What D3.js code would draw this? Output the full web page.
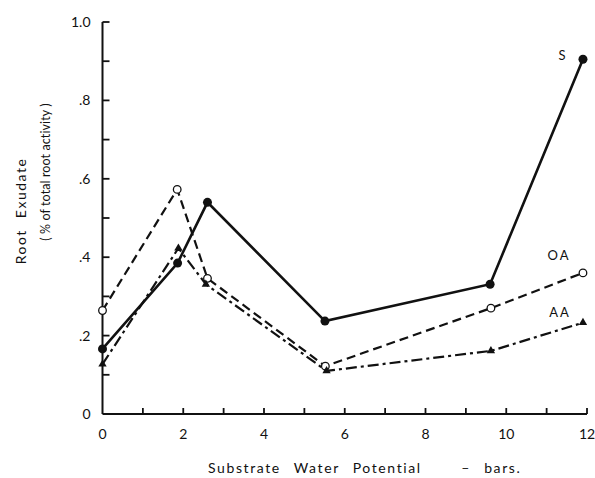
<!DOCTYPE html>
<html>
<head>
<meta charset="utf-8">
<script src="https://cdn.jsdelivr.net/npm/d3@7"></script>
<style>
  body { margin: 0; background: #fff; }
  text { font-family: 'Lato', 'DejaVu Sans', sans-serif; fill: #111; }
</style>
</head>
<body>
<div id="chart"></div>
<script>
// water potential (-bars) for each series
const sX = [0, 1.86, 2.6, 5.51, 9.6, 11.9];
const sY = [0.166, 0.385, 0.54, 0.237, 0.331, 0.905];
const oaX = [0, 1.85, 2.6, 5.52, 9.62, 11.9];
const oaY = [0.264, 0.573, 0.346, 0.122, 0.27, 0.36];
const aaX = [0, 1.88, 2.56, 5.55, 9.62, 11.9];
const aaY = [0.127, 0.423, 0.331, 0.11, 0.161, 0.233];
const xTicks = [0, 2, 4, 6, 8, 10, 12];
const yTicks = [0, 0.2, 0.4, 0.6, 0.8, 1.0];
const yTickLabels = ['0', '.2', '.4', '.6', '.8', '1.0'];

const width = 595;
const height = 478;

const svg = d3
  .select('#chart')
  .append('svg')
  .attr('width', width)
  .attr('height', height);

const x = d3.scaleLinear().domain([0, 12]).range([102.5, 587]);
const y = d3.scaleLinear().domain([0, 1]).range([414, 22]);

// axes
const xAxis = svg.append('g').attr('transform', `translate(0,${y(0)})`);
xAxis
  .append('line')
  .attr('x1', x(0))
  .attr('x2', x(12))
  .attr('stroke', '#111')
  .attr('stroke-width', 2);
xAxis
  .selectAll('.xt')
  .data(d3.range(1, 13))
  .enter()
  .append('line')
  .attr('x1', (d) => x(d))
  .attr('x2', (d) => x(d))
  .attr('y1', 0)
  .attr('y2', -6)
  .attr('stroke', '#111')
  .attr('stroke-width', 1.8);
xAxis
  .selectAll('.xl')
  .data(xTicks)
  .enter()
  .append('text')
  .attr('x', (d) => x(d))
  .attr('y', 25)
  .attr('text-anchor', 'middle')
  .style('font-size', '14px')
  .text((d) => d);

const yAxis = svg.append('g').attr('transform', `translate(${x(0)},0)`);
yAxis
  .append('line')
  .attr('y1', y(0))
  .attr('y2', y(1))
  .attr('stroke', '#111')
  .attr('stroke-width', 2);
yAxis
  .selectAll('.yt')
  .data(d3.range(1, 11).map((d) => d / 10))
  .enter()
  .append('line')
  .attr('y1', (d) => y(d))
  .attr('y2', (d) => y(d))
  .attr('x1', 0)
  .attr('x2', 7)
  .attr('stroke', '#111')
  .attr('stroke-width', 1.8);
yAxis
  .selectAll('.yl')
  .data(yTicks)
  .enter()
  .append('text')
  .attr('x', -12)
  .attr('y', (d) => y(d))
  .attr('dy', '0.35em')
  .attr('text-anchor', 'end')
  .style('font-size', '14px')
  .text((d, i) => yTickLabels[i]);

// axis titles
svg
  .append('text')
  .attr('transform', 'translate(26,211) rotate(-90)')
  .attr('text-anchor', 'middle')
  .style('font-size', '14px')
  .style('letter-spacing', '1.5px')
  .style('word-spacing', '6px')
  .text('Root Exudate');
svg
  .append('text')
  .attr('transform', 'translate(50,172) rotate(-90)')
  .attr('text-anchor', 'middle')
  .style('font-size', '12.5px')
  .style('letter-spacing', '0.1px')
  .text('( % of total root activity )');
svg
  .append('text')
  .attr('x', 208)
  .attr('y', 473)
  .style('font-size', '14px')
  .style('letter-spacing', '1.6px')
  .style('word-spacing', '8px')
  .text('Substrate Water Potential \u00a0 \u2013 bars.');

// series
const line = d3
  .line()
  .x((d) => x(d[0]))
  .y((d) => y(d[1]));

const series = [
  { name: 'S', xs: sX, ys: sY, dash: null, w: 2.6, lx: 563, ly: 60 },
  { name: 'OA', xs: oaX, ys: oaY, dash: '9,5', w: 2.2, lx: 559, ly: 260 },
  { name: 'AA', xs: aaX, ys: aaY, dash: '11,4,3,4', w: 2.2, lx: 560, ly: 317 },
];

series.forEach((s) => {
  const pts = s.xs.map((v, i) => [v, s.ys[i]]);
  svg
    .append('path')
    .datum(pts)
    .attr('d', line)
    .attr('fill', 'none')
    .attr('stroke', '#111')
    .attr('stroke-width', s.w)
    .attr('stroke-dasharray', s.dash);

  const g = svg.append('g');
  if (s.name === 'S') {
    g.selectAll('circle')
      .data(pts)
      .enter()
      .append('circle')
      .attr('cx', (d) => x(d[0]))
      .attr('cy', (d) => y(d[1]))
      .attr('r', 4.5)
      .attr('fill', '#111');
  } else if (s.name === 'OA') {
    g.selectAll('circle')
      .data(pts)
      .enter()
      .append('circle')
      .attr('cx', (d) => x(d[0]))
      .attr('cy', (d) => y(d[1]))
      .attr('r', 3.8)
      .attr('fill', '#fff')
      .attr('stroke', '#111')
      .attr('stroke-width', 1.3);
  } else {
    g.selectAll('path')
      .data(pts)
      .enter()
      .append('path')
      .attr('d', d3.symbol(d3.symbolTriangle, 30))
      .attr('transform', (d) => `translate(${x(d[0])},${y(d[1])})`)
      .attr('fill', '#111');
  }

  svg
    .append('text')
    .attr('x', s.lx)
    .attr('y', s.ly)
    .attr('text-anchor', 'middle')
    .style('font-size', '13px')
    .style('letter-spacing', '2px')
    .text(s.name);
});
</script>
</body>
</html>
